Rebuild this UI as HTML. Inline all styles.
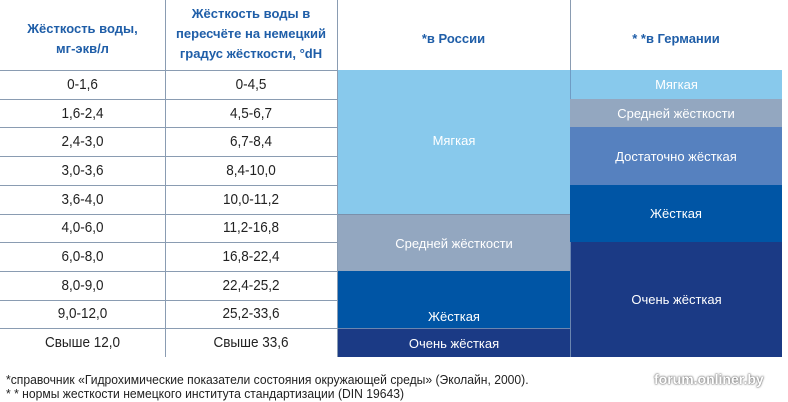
<!DOCTYPE html>
<html><head><meta charset="utf-8"><style>
body{margin:0;width:788px;height:402px;background:#fff;font-family:"Liberation Sans Narrow","Liberation Sans","Noto Sans CJK JP",sans-serif;position:relative;overflow:hidden}
div{position:absolute;box-sizing:border-box}
.h{color:#1f5ea8;font-weight:bold;font-size:13px;text-align:center;line-height:20px}
.c{font-size:15px;color:#222;text-align:center;line-height:28px;transform:scaleX(.9)}
.b{color:#fff;font-size:13px;display:flex;align-items:center;justify-content:center;text-align:center}
.hl{height:1px;background:#8a9cb2}
.vl{width:1px;background:#8a9cb2}
.f{font-size:12.5px;color:#222;transform:scaleX(.97);transform-origin:left}
</style></head><body>
<div class="h" style="left:0;top:19px;width:165px">Жёсткость воды,<br>мг-экв/л</div>
<div class="h" style="left:165px;top:4px;width:172px">Жёсткость воды в<br>пересчёте на немецкий<br>градус жёсткости, °dH</div>
<div class="h" style="left:337px;top:29px;width:233px">*в России</div>
<div class="h" style="left:570px;top:29px;width:212px">* *в Германии</div>
<div class="vl" style="left:165px;top:0;height:357px"></div>
<div class="vl" style="left:337px;top:0;height:357px"></div>
<div class="vl" style="left:570px;top:0;height:70px"></div>
<div class="hl" style="left:0;top:70px;width:782px"></div>
<div class="hl" style="left:0;top:99px;width:337px"></div>
<div class="hl" style="left:0;top:127px;width:337px"></div>
<div class="hl" style="left:0;top:156px;width:337px"></div>
<div class="hl" style="left:0;top:185px;width:337px"></div>
<div class="hl" style="left:0;top:214px;width:337px"></div>
<div class="hl" style="left:0;top:242px;width:337px"></div>
<div class="hl" style="left:0;top:271px;width:337px"></div>
<div class="hl" style="left:0;top:300px;width:337px"></div>
<div class="hl" style="left:0;top:328px;width:337px"></div>

<div class="c" style="left:0;top:71px;width:165px">0-1,6</div><div class="c" style="left:165px;top:71px;width:172px">0-4,5</div>
<div class="c" style="left:0;top:100px;width:165px">1,6-2,4</div><div class="c" style="left:165px;top:100px;width:172px">4,5-6,7</div>
<div class="c" style="left:0;top:128px;width:165px">2,4-3,0</div><div class="c" style="left:165px;top:128px;width:172px">6,7-8,4</div>
<div class="c" style="left:0;top:157px;width:165px">3,0-3,6</div><div class="c" style="left:165px;top:157px;width:172px">8,4-10,0</div>
<div class="c" style="left:0;top:186px;width:165px">3,6-4,0</div><div class="c" style="left:165px;top:186px;width:172px">10,0-11,2</div>
<div class="c" style="left:0;top:214px;width:165px">4,0-6,0</div><div class="c" style="left:165px;top:214px;width:172px">11,2-16,8</div>
<div class="c" style="left:0;top:243px;width:165px">6,0-8,0</div><div class="c" style="left:165px;top:243px;width:172px">16,8-22,4</div>
<div class="c" style="left:0;top:272px;width:165px">8,0-9,0</div><div class="c" style="left:165px;top:272px;width:172px">22,4-25,2</div>
<div class="c" style="left:0;top:300px;width:165px">9,0-12,0</div><div class="c" style="left:165px;top:300px;width:172px">25,2-33,6</div>
<div class="c" style="left:0;top:329px;width:165px">Свыше 12,0</div><div class="c" style="left:165px;top:329px;width:172px">Свыше 33,6</div>

<div class="b" style="left:338px;top:70px;width:232px;height:144px;background:#88c9ec;padding-bottom:4px">Мягкая</div>
<div class="b" style="left:338px;top:214px;width:232px;height:57px;background:#93a7c0;border-top:1px solid #7a90ab">Средней жёсткости</div>
<div class="b" style="left:338px;top:271px;width:232px;height:57px;background:#0055a5;align-items:flex-end;padding-bottom:4px">Жёсткая</div>
<div class="b" style="left:338px;top:328px;width:232px;height:29px;background:#1b3a85;border-top:1px solid #6b86b0">Очень жёсткая</div>

<div class="b" style="left:570px;top:70px;width:212px;height:29px;background:#88c9ec;border-left:1px solid #6f9cc4">Мягкая</div>
<div class="b" style="left:570px;top:99px;width:212px;height:28px;background:#93a7c0">Средней жёсткости</div>
<div class="b" style="left:570px;top:127px;width:212px;height:58px;background:#5681bf">Достаточно жёсткая</div>
<div class="b" style="left:570px;top:185px;width:212px;height:57px;background:#0055a5">Жёсткая</div>
<div class="b" style="left:570px;top:242px;width:212px;height:115px;background:#1b3a85;border-left:1px solid #6b86b0">Очень жёсткая</div>

<div class="f" style="left:6px;top:373px">*справочник «Гидрохимические показатели состояния окружающей среды» (Эколайн, 2000).</div>
<div class="f" style="left:6px;top:387px">* * нормы жесткости немецкого института стандартизации (DIN 19643)</div>
<div style="left:654px;top:371px;color:#fff;font-weight:bold;font-size:14px;text-shadow:0 0 2px #555,0 0 1px #555">forum.onliner.by</div>
</body></html>
